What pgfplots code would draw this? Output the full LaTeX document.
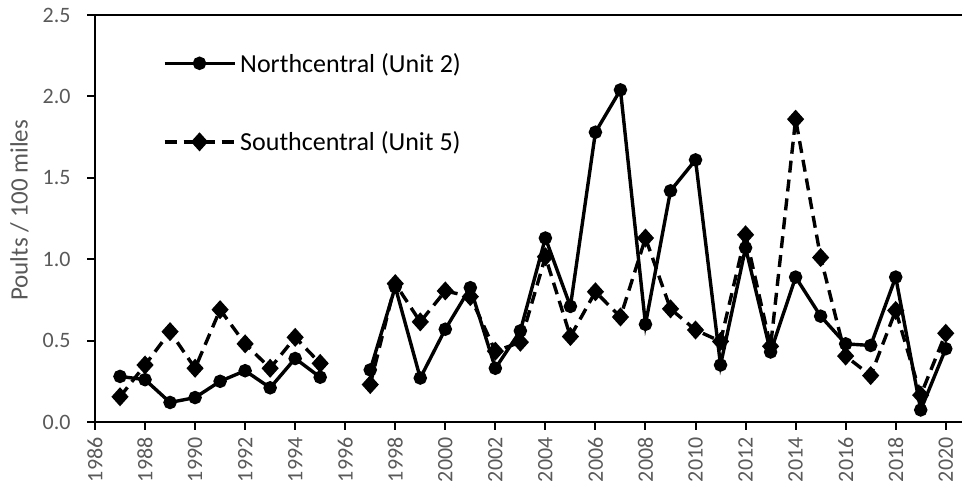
\documentclass[border=0pt]{standalone}
\usepackage{pgfplots}
\pgfplotsset{compat=1.18}
\usepackage{fontspec}
\setmainfont{Carlito}
\definecolor{tickgray}{HTML}{595959}
\begin{document}
\begin{tikzpicture}
\begin{axis}[
  scale only axis,
  width=867pt, height=407pt,
  xmin=1986, xmax=2020.65,
  ymin=0, ymax=2.5,
  axis x line*=bottom, axis y line*=left,
  axis line style={black, line width=2.2pt, -},
  xtick={1986,1988,...,2020},
  ytick={0,0.5,1,1.5,2,2.5},
  tick align=outside,
  major tick length=8pt,
  tick style={black, line width=2pt},
  every tick label/.append style={text=tickgray, font=\fontsize{22}{24}\selectfont},
  xticklabel style={rotate=90, anchor=east},
  xticklabel shift=4pt,
  yticklabel shift=13pt,
  x tick label style={/pgf/number format/1000 sep={}},
  yticklabel style={/pgf/number format/fixed, /pgf/number format/fixed zerofill, /pgf/number format/precision=1},
  /pgf/number format/assume math mode=true,
  ylabel={Poults / 100 miles},
  every axis y label/.style={at={(rel axis cs:-0.087,0.52)}, rotate=90, anchor=center,
    text=tickgray, font=\fontsize{25}{27}\selectfont},
  unbounded coords=jump,
  legend style={draw=none, fill=none, at={(rel axis cs:0.078,0.907)}, anchor=north west,
    font=\fontsize{26}{28}\selectfont, row sep=58pt, inner sep=0pt,
    nodes={inner xsep=4pt, inner ysep=0pt}},
  legend cell align=left,
  legend image code/.code={\draw[mark repeat=2,mark phase=2,#1] plot coordinates {(0pt,0pt) (35pt,0pt) (70pt,0pt)};},
  clip=false,
]
\addplot[black, line width=3.4pt, mark=*, mark size=5pt, mark options={solid}] coordinates {
(1987,0.28) (1988,0.26) (1989,0.12) (1990,0.15) (1991,0.25) (1992,0.315) (1993,0.21) (1994,0.39) (1995,0.275)
(1996,nan)
(1997,0.32) (1998,0.83) (1999,0.27) (2000,0.57) (2001,0.825) (2002,0.33) (2003,0.56) (2004,1.13) (2005,0.71)
(2006,1.78) (2007,2.04) (2008,0.60) (2009,1.42) (2010,1.61) (2011,0.35) (2012,1.07) (2013,0.43) (2014,0.89)
(2015,0.65) (2016,0.48) (2017,0.47) (2018,0.89) (2019,0.074) (2020,0.45)
};
\addlegendentry{Northcentral (Unit 2)}
\addplot[black, line width=3.4pt, dash pattern=on 12pt off 7pt, mark=diamond*, mark size=7pt, mark options={solid, xscale=1.2}] coordinates {
(1987,0.155) (1988,0.35) (1989,0.555) (1990,0.33) (1991,0.69) (1992,0.48) (1993,0.33) (1994,0.52) (1995,0.36)
(1996,nan)
(1997,0.23) (1998,0.85) (1999,0.615) (2000,0.805) (2001,0.77) (2002,0.435) (2003,0.49) (2004,1.015) (2005,0.525)
(2006,0.80) (2007,0.645) (2008,1.13) (2009,0.695) (2010,0.565) (2011,0.495) (2012,1.15) (2013,0.465) (2014,1.86)
(2015,1.01) (2016,0.405) (2017,0.285) (2018,0.685) (2019,0.165) (2020,0.545)
};
\addlegendentry{Southcentral (Unit 5)}
\draw[black, line width=2.2pt] (rel axis cs:0,1) -- (rel axis cs:1,1);
\coordinate (ll) at (rel axis cs:0,0);
\coordinate (ur) at (rel axis cs:1,1);
\end{axis}
\pgfresetboundingbox
\path ([shift={(-95pt,-67pt)}]ll) rectangle ([shift={(1pt,15pt)}]ur);
\end{tikzpicture}
\end{document}
